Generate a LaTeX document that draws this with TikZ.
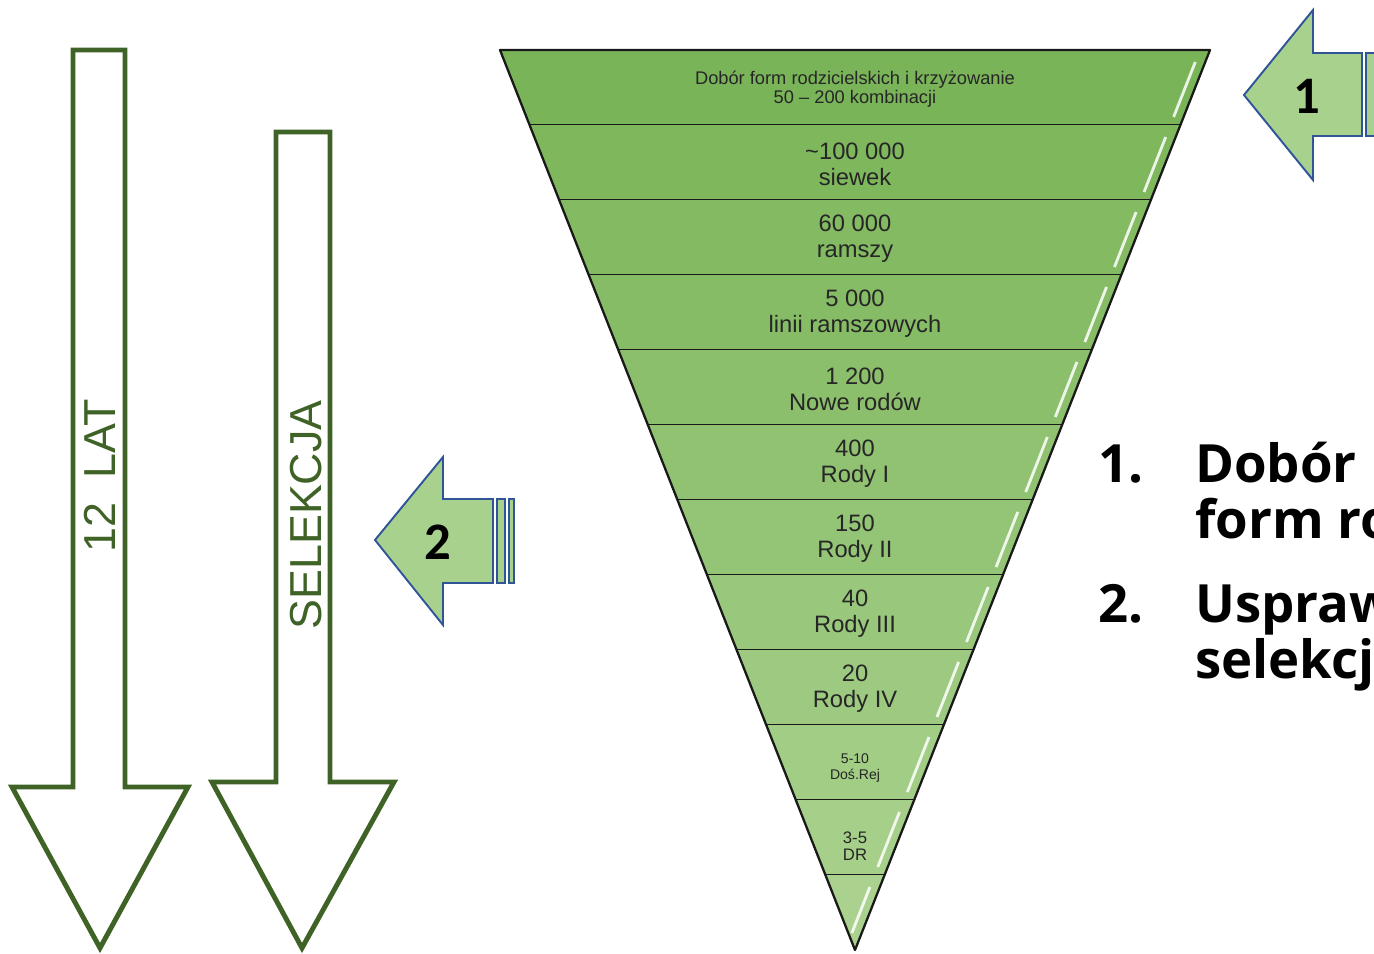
\documentclass[tikz,border=0pt]{standalone}
\usepackage{fontspec}
\setmainfont{Liberation Sans}
\newfontfamily\opensans{Open Sans}
\newfontfamily\carlito{Carlito}
\definecolor{arrowgreen}{RGB}{63,98,38}
\definecolor{bandtop}{RGB}{122,180,88}
\definecolor{bandlow}{RGB}{170,210,142}
\definecolor{lightfill}{RGB}{169,209,142}
\definecolor{boxblue}{RGB}{47,85,151}
\tikzset{
  downarrow/.style={draw=arrowgreen, line width=2.8pt, fill=white},
  numarrow/.style={draw=boxblue, line width=1.1pt, fill=lightfill},
  bandtext/.style={align=center, text=black!85, inner sep=0pt,
    font=\fontsize{13.5}{14.7}\selectfont},
  smalltext/.style={bandtext, font=\fontsize{10.4}{10.8}\selectfont},
  arrowtext/.style={text=arrowgreen, rotate=90, font=\fontsize{25.5}{27}\selectfont},
  numlabel/.style={font=\carlito\bfseries\fontsize{30}{32}\selectfont},
  listtext/.style={anchor=base west, inner sep=0pt, font=\opensans\bfseries\fontsize{30}{33}\selectfont}
}
\begin{document}
\begin{tikzpicture}[x=0.02cm, y=-0.02cm]
    \useasboundingbox (0,0) rectangle (1374,954);
    % two tall arrows on the left
    \draw[downarrow] (73,50) -- (125,50) -- (125,787) -- (188,787) -- (100,948) -- (12,787) -- (73,787) -- cycle;
    \draw[downarrow] (276,132) -- (330,132) -- (330,782) -- (394,782) -- (302,948) -- (212,782) -- (276,782) -- cycle;
    \node[arrowtext] (lat) at (100,476) {12\ \ LAT};
    \node[arrowtext] (sel) at (306,515) {SELEKCJA};
    % funnel bands
    \foreach \i in {0,...,11} {
        \pgfmathsetmacro{\ya}{50+75*\i}
        \pgfmathsetmacro{\yb}{\ya+75}
        \pgfmathsetmacro{\da}{29.5833*\i}
        \pgfmathsetmacro{\db}{\da+29.5833}
        \pgfmathtruncatemacro{\mix}{100-100*\i/11}
        \fill[bandtop!\mix!bandlow] (500+\da,\ya) -- (1210-\da,\ya) -- (1210-\db,\yb) -- (500+\db,\yb) -- cycle;
        \ifnum\i<11
            \draw[white, line width=1.6pt, opacity=0.85] (1200-\da-4.7,\ya+12) -- (1200-\db+3.2,\yb-8);
        \else
            \draw[white, line width=1.6pt, opacity=0.85] (1200-\da-4.7,\ya+12) -- (1200-\da-4.7-18,\ya+58);
        \fi
        \draw[black!90, line width=1.3pt] (500+\db,\yb) -- (1210-\db,\yb);
    }
    \draw[black!90, line width=1.3pt, line join=round] (500,50) -- (1210,50) -- (855,950) -- cycle;
    % band labels
    \node[smalltext] (b1) at (855,89) {Dobór form rodzicielskich i krzyżowanie\\50 – 200 kombinacji};
    \node[bandtext] (b2) at (855,164) {\textasciitilde100 000\\siewek};
    \node[bandtext] (b3) at (855,239) {60 000\\ramszy};
    \node[bandtext] (b4) at (855,314) {5 000\\linii ramszowych};
    \node[bandtext] (b5) at (855,389) {1 200\\Nowe rodów};
    \node[bandtext] (b6) at (855,464) {400\\Rody I};
    \node[bandtext] (b7) at (855,539) {150\\Rody II};
    \node[bandtext] (b8) at (855,614) {40\\Rody III};
    \node[bandtext] (b9) at (855,689) {20\\Rody IV};
    \node[bandtext, font=\fontsize{8}{8.6}\selectfont] (b10) at (855,768) {5-10\\Doś.Rej};
    \node[bandtext, font=\fontsize{9.5}{10}\selectfont] (b11) at (855,846) {3-5\\DR};
    % numbered arrows and list (cut by the right edge)
    \begin{scope}
        \clip (0,0) rectangle (1374,954);
        \draw[numarrow] (1244,95) -- (1313,10) -- (1313,53) -- (1362,53) -- (1362,136) -- (1313,136) -- (1313,180) -- cycle;
        \draw[numarrow] (1366,53) rectangle (1390,136);
        \node[numlabel] (n1) at (1307,96) {1};
        \node[listtext] (l1) at (1098,482) {1.};
        \node[listtext] (l1a) at (1195,482) {Dobór};
        \node[listtext] (l1b) at (1195,538) {form ro};
        \node[listtext] (l2) at (1098,622) {2.};
        \node[listtext] (l2a) at (1195,622) {Usprawn};
        \node[listtext] (l2b) at (1195,678) {selekcji};
    \end{scope}
    \draw[numarrow] (375,540) -- (443,457) -- (443,499) -- (493,499) -- (493,583) -- (443,583) -- (443,625) -- cycle;
    \draw[numarrow] (497,499) rectangle (505,583);
    \draw[numarrow] (509,499) rectangle (514,583);
    \node[numlabel] (n2) at (438,542) {2};
\end{tikzpicture}
\end{document}
